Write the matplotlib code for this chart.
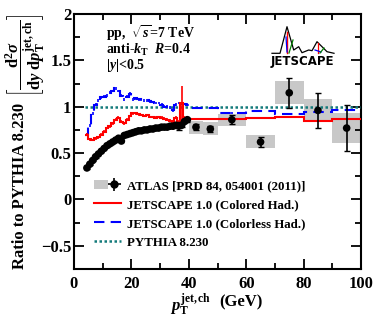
import numpy as np
import matplotlib
matplotlib.use("Agg")
import matplotlib.pyplot as plt
from matplotlib.patches import Rectangle, Patch
from matplotlib.legend_handler import HandlerTuple
from matplotlib.lines import Line2D

plt.rcParams['font.family'] = ['Liberation Serif', 'DejaVu Serif']
plt.rcParams['font.weight'] = 'bold'
plt.rcParams['mathtext.fontset'] = 'custom'
plt.rcParams['mathtext.rm'] = 'Liberation Serif:bold'
plt.rcParams['mathtext.it'] = 'Liberation Serif:italic:bold'
plt.rcParams['mathtext.bf'] = 'Liberation Serif:bold'

# ---------------- data ----------------
# bin edges (GeV)
edges = [4, 5, 6, 7, 8, 9, 10, 11, 12, 13, 14, 15, 16, 17, 18, 19, 20, 21, 22,
         23, 24, 25, 26, 27, 28, 29, 30, 31, 32, 33, 34, 35, 36, 37, 38, 39, 40,
         45, 50, 60, 70, 80, 90, 100]

atlas_ratio = [0.34, 0.38, 0.42, 0.46, 0.49, 0.52, 0.55, 0.58, 0.60, 0.62,
               0.64, 0.66, 0.63, 0.69, 0.70, 0.71, 0.72, 0.73, 0.74, 0.74,
               0.75, 0.75, 0.76, 0.76, 0.77, 0.77, 0.78, 0.78, 0.78, 0.79,
               0.79, 0.80, 0.79, 0.80, 0.84, 0.86,
               0.78, 0.76, 0.86, 0.62, 1.15, 0.96, 0.77]
atlas_stat = [0.01] * 32 + [0.04, 0.02, 0.02, 0.02,
                            0.03, 0.035, 0.05, 0.05, 0.16, 0.19, 0.25]
atlas_syst = [0.025] * 36 + [0.07, 0.07, 0.065, 0.07, 0.125, 0.125, 0.16]

colored_ratio = [0.70, 0.65, 0.64, 0.66, 0.67, 0.70, 0.73, 0.77, 0.79, 0.82,
                 0.86, 0.88, 0.84, 0.82, 0.86, 0.90, 0.93, 0.93, 0.92, 0.91,
                 0.90, 0.91, 0.89, 0.89, 0.88, 0.89, 0.88, 0.87, 0.86, 0.85,
                 0.82, 0.88, 0.84, 1.04, 0.88, 0.88,
                 0.87, 0.87, 0.87, 0.88, 0.89, 0.85, 0.87]
colored_err = [0.015] * 33 + [0.18, 0.02, 0.02, 0.01, 0.01, 0.01, 0.01, 0.01, 0.01, 0.01]

colorless_ratio = [0.70, 0.80, 0.93, 1.02, 1.07, 1.10, 1.11, 1.12, 1.15, 1.17,
                   1.20, 1.17, 1.12, 1.08, 1.11, 1.14, 1.08, 1.09, 1.08, 1.08,
                   1.07, 1.07, 1.06, 1.05, 1.04, 1.04, 1.02, 1.00, 1.00, 0.99,
                   0.96, 1.02, 1.04, 1.03, 1.03, 1.02,
                   0.99, 0.99, 0.93, 0.95, 0.92, 0.94, 0.96]
colorless_err = [0.015] * 36 + [0.01] * 7

pythia_ratio = [1.0] * 43

# ---------------- figure ----------------
W, H = 374, 319
fig = plt.figure(figsize=(W / 100, H / 100), dpi=100)
ax = fig.add_axes([74 / W, 1 - 269 / H, (361 - 74) / W, (269 - 14) / H])

e = np.array(edges, dtype=float)
xc = 0.5 * (e[:-1] + e[1:])

# ATLAS systematic boxes
for x0, x1, v, s in zip(e[:-1], e[1:], atlas_ratio, atlas_syst):
    ax.add_patch(Rectangle((x0, v - s), x1 - x0, 2 * s, facecolor='#c8c8c8',
                           edgecolor='none', zorder=1))

teal = '#137a7a'
# PYTHIA
ax.stairs(pythia_ratio, e, baseline=None, color=teal, lw=1.8, ls=(0, (1, 1)), zorder=3)

# Colorless (blue)
ax.stairs(colorless_ratio, e, baseline=None, color='#0000ff', lw=1.5,
          ls=(0, (5, 3)), zorder=4)
ax.errorbar(xc, colorless_ratio, yerr=colorless_err, fmt='none',
            ecolor='#0000ff', elinewidth=1.2, zorder=4)
# Colored (red)
ax.stairs(colored_ratio, e, baseline=None, color='#ff0000', lw=1.5, zorder=5)
ax.errorbar(xc, colored_ratio, yerr=colored_err, fmt='none',
            ecolor='#ff0000', elinewidth=1.2, zorder=5)

# ATLAS data
ms = [5.5] * 36 + [5.5] * 7
ax.errorbar(xc, atlas_ratio, yerr=atlas_stat, fmt='none',
            ecolor='black', elinewidth=1.2, capsize=2.5, zorder=6)
ax.scatter(xc, atlas_ratio, s=np.array(ms) ** 2, color='black', zorder=7,
           edgecolors='none')

ax.set_xlim(0, 100)
ax.set_ylim(-0.75, 2)
ax.set_xticks([0, 20, 40, 60, 80, 100])
ax.set_xticks([10, 30, 50, 70, 90], minor=True)
ax.set_yticks([-0.5, 0, 0.5, 1, 1.5, 2])
ax.set_yticklabels(['\u22120.5', '0', '0.5', '1', '1.5', '2'])
ax.set_yticks([-0.75, -0.25, 0.25, 0.75, 1.25, 1.75], minor=True)
ax.tick_params(which='both', direction='in', top=True, right=True, width=1.3)
ax.tick_params(which='major', length=7, labelsize=12)
ax.tick_params(which='minor', length=4)
ax.tick_params(axis='y', pad=2)
ax.tick_params(axis='x', pad=5)
for lab in ax.get_xticklabels() + ax.get_yticklabels():
    lab.set_fontweight('bold')
for sp in ax.spines.values():
    sp.set_linewidth(1.5)

# legend
h_atlas_box = Patch(facecolor='#c8c8c8', edgecolor='none')
h_atlas = ax.errorbar([], [], yerr=[], xerr=[], fmt='o', color='black', ms=5,
                      elinewidth=1.2, capsize=0)
h_col = Line2D([], [], color='#ff0000', lw=1.5)
h_cl = Line2D([], [], color='#0000ff', lw=1.5, ls=(0, (5, 3)))
h_py = Line2D([], [], color=teal, lw=1.8, ls=(0, (1, 1)))
leg = ax.legend([(h_atlas_box, h_atlas), h_col, h_cl, h_py],
                ['ATLAS [PRD 84, 054001 (2011)]', 'JETSCAPE 1.0 (Colored Had.)',
                 'JETSCAPE 1.0 (Colorless Had.)', 'PYTHIA 8.230'],
                handler_map={tuple: HandlerTuple(ndivide=None, pad=0)},
                loc='upper left', bbox_to_anchor=(0.07, 0.35), frameon=False,
                borderaxespad=0, borderpad=0, handlelength=2.1,
                handletextpad=0.45, labelspacing=0.54,
                prop={'family': 'Liberation Serif', 'weight': 'bold', 'size': 9.3})

# in-plot text
def fx(px):
    return px / W

def fy(py):
    return 1 - py / H

fig.text(fx(106), fy(33), r'pp,  $\sqrt{s}$=7 TeV', fontsize=10, fontweight='bold',
         va='center', ha='left')
fig.text(fx(106), fy(50), r'anti-$k_\mathrm{T}$  $R$=0.4', fontsize=10,
         fontweight='bold', va='center', ha='left')
fig.text(fx(106), fy(65), r'$|y|$<0.5', fontsize=10, fontweight='bold',
         va='center', ha='left')

# axis labels
fig.text(fx(20), fy(186), 'Ratio to PYTHIA 8.230', rotation=90, fontsize=12,
         fontweight='bold', ha='center', va='center')
fig.text(fx(26), fy(55),
         r'$\left[\dfrac{\mathrm{d}^2\sigma}{\mathrm{d}y\;\mathrm{d}p_\mathrm{T}^\mathrm{jet,ch}}\right]$',
         rotation=90, fontsize=12, ha='center', va='center')
fig.text(fx(191), fy(305), r'$p_\mathrm{T}^\mathrm{jet,ch}$', fontsize=12,
         fontweight='bold', ha='center', va='center')
fig.text(fx(241), fy(302), '(GeV)', fontsize=12,
         fontweight='bold', ha='center', va='center')

# JETSCAPE logo (decoration)
lax = fig.add_axes([fx(265), fy(70), (340 - 265) / W, 50 / H])
lax.set_xlim(265, 340)
lax.set_ylim(70, 20)
lax.axis('off')
lax.plot([272, 280, 287, 293.7, 298.7, 302, 308.7, 312, 317, 322, 327, 334],
         [53.3, 53.3, 26.7, 50, 46.7, 52.7, 50, 50.7, 41.7, 46.7, 51.7, 53.3],
         color='black', lw=0.9)
lax.plot([287, 287], [32, 53], color='red', lw=1.0)
lax.plot([286, 287], [37, 52], color='blue', lw=0.9)
lax.plot([289, 293], [53, 40], color='green', lw=0.9)
lax.plot([318, 318], [43, 53], color='red', lw=0.9)
lax.plot([315, 321], [50, 52], color='blue', lw=0.9)
lax.plot([320, 324], [53, 48], color='green', lw=0.9)
lax.text(302.5, 62, 'JETSCAPE', fontsize=8.5, fontweight='bold',
         family='DejaVu Sans', ha='center', va='center')

fig.savefig('out.png', dpi=100)
